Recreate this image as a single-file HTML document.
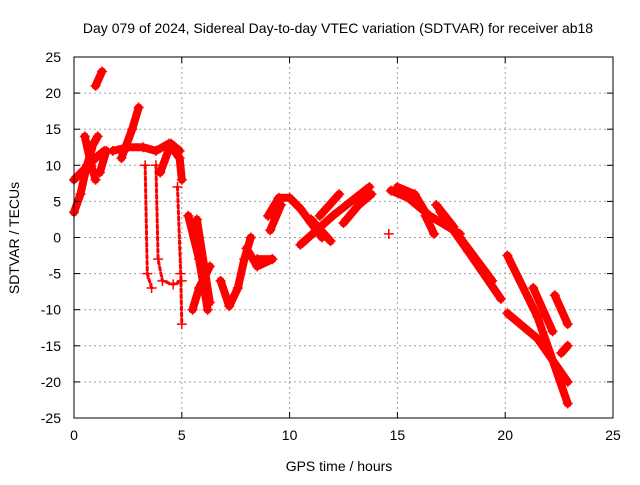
<!DOCTYPE html>
<html><head><meta charset="utf-8"><style>
body{margin:0;background:#fff}
svg text{font-family:"Liberation Sans",sans-serif;font-size:14px;fill:#000}
</style></head><body>
<svg id="c" width="640" height="480">
<rect width="640" height="480" fill="#fff"/>
<text x="338" y="33" text-anchor="middle">Day 079 of 2024, Sidereal Day-to-day VTEC variation (SDTVAR) for receiver ab18</text>
<text x="339" y="471" text-anchor="middle">GPS time / hours</text>
<text transform="translate(19,238) rotate(-90)" text-anchor="middle">SDTVAR / TECUs</text>
<g id="grid"></g><g id="marks"></g><g id="axes"></g>
</svg>
<script>
const xTicks=[0,5,10,15,20,25];
const yTicks=[-25,-20,-15,-10,-5,0,5,10,15,20,25];
// satellite arcs: hours
const arcHours=[
[0,0.3,0.6,0.9,1.1],[0,0.5,1.0,1.4],[1.0,1.3],[0.5,0.8,1.0],[2.2,2.7,3.0],
[1.8,2.5,3.2,3.8,4.4,4.9,5.0],[3.3,3.4,3.6],[3.8,3.9,4.1,4.6,5.0],[4.8,4.95,5.0],
[5.3,5.8,6.2],[5.7,6.3],[5.5,5.8,6.3],[6.8,7.2,7.6,7.9,8.2],[8.5,9.2],
[9.0,9.5,10,10.5,11,11.5],[10.5,12.0,13.7],[11.4,12.3],[11,11.9],
[14.7,15.5,16.5,17.9],[16.3,16.7],[17,18.3,19.8],[17.9,19.4],
[20.1,21.5,22.9],[20.1,21.5,22.9],[21.3,22.2],[22.3,22.9],[22.6,22.9],[14.6],
[8.0,8.5,9.2],[9.1,9.6],[12.5,13.2,13.8],[15,15.8,16.4],[16.8,17.6],[1.2,1.5],[4.0,4.5,4.9]];
// satellite arcs: SDTVAR values (TECU)
const arcValues=[
[3.5,6,10,13,14],[8,9.5,11,12],[21,23],[14,10,8],[11,15,18],
[12,12.5,12.5,12,13,11,8],[10,-5,-7],[10,-3,-6,-6.5,-6],[7,-5,-12],
[3,-3,-10],[2.5,-9],[-10,-7,-4],[-6,-9.5,-7,-3,0],[-3,-3],
[3,5.5,5.5,4,2,0],[-1,3,7],[3,6],[2.5,-0.5],
[6.5,5.5,3,0.5],[3,0.5],[3.5,-2,-8.5],[0,-6],
[-2.5,-11,-23],[-10.5,-14,-20],[-7,-13],[-8,-12],[-16,-15],[0.5],
[-1.5,-4,-3],[1,4.5],[2,4.5,6],[7,6,3],[4.5,1.5],[9,12],[9,13,12]];
const thinArcs=new Set([6,7,8]);
const L=74,R=613,T=57,B=418;
const sx=h=>L+(h-0)/25*(R-L), sy=v=>B-(v+25)/50*(B-T);
const NS="http://www.w3.org/2000/svg";
function mk(t,a,p){const e=document.createElementNS(NS,t);for(const k in a)e.setAttribute(k,a[k]);p.appendChild(e);return e;}
const grid=document.getElementById('grid'),axes=document.getElementById('axes'),marks=document.getElementById('marks');
xTicks.forEach(t=>{const x=sx(t);
 if(t>0&&t<25){const g=mk('line',{x1:x,x2:x,y1:T,y2:B,stroke:'#a0a0a0','stroke-dasharray':'2,3'},grid);
 
 }
 const tx=mk('text',{x:x,y:B+22,'text-anchor':'middle'},axes);tx.textContent=t;
 
 
 mk('line',{x1:x,x2:x,y1:B,y2:B-6,stroke:'#000'},axes);mk('line',{x1:x,x2:x,y1:T,y2:T+6,stroke:'#000'},axes);});
yTicks.forEach(t=>{const y=sy(t);
 if(t>-25&&t<25){const g=mk('line',{x1:L,x2:R,y1:y,y2:y,stroke:'#a0a0a0','stroke-dasharray':'2,3'},grid);
 
 }
 const tx=mk('text',{x:L-13,y:y+5,'text-anchor':'end'},axes);tx.textContent=t;
 
 
 mk('line',{x1:L,x2:L+6,y1:y,y2:y,stroke:'#000'},axes);mk('line',{x1:R,x2:R-6,y1:y,y2:y,stroke:'#000'},axes);});
const bd=mk('rect',{x:L,y:T,width:R-L,height:B-T,fill:'none',stroke:'#000'},axes);


arcHours.forEach((hs,i)=>{const vs=arcValues[i];
 const pts=hs.map((h,j)=>sx(h)+','+sy(vs[j])).join(' ');
 const pl=mk('polyline',{points:pts,fill:'none',stroke:'#f00','stroke-width':thinArcs.has(i)?3:8,'stroke-linejoin':'round','stroke-linecap':'round','stroke-dasharray':thinArcs.has(i)?'3,3':'none'},marks);
 
 
 hs.forEach((h,j)=>{const x=sx(h),y=sy(vs[j]);
  const p=mk('path',{d:`M${x-5},${y}H${x+5}M${x},${y-5}V${y+5}`,stroke:'#f00','stroke-width':1.5},marks);
  
  });
});
</script>
</body></html>
